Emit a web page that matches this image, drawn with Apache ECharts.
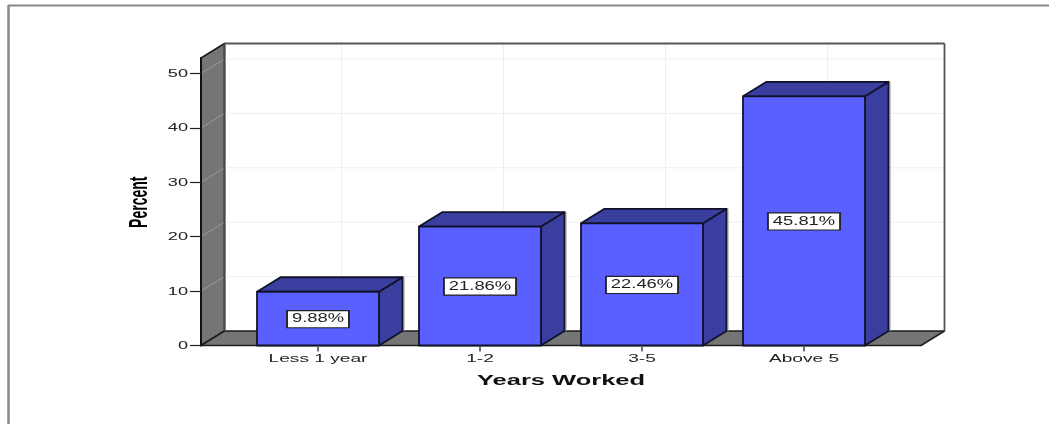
<!DOCTYPE html>
<html>
<head>
<meta charset="utf-8">
<style>html,body{margin:0;padding:0;background:#fff}#c{width:1049px;height:424px}#c canvas{filter:blur(0.4px)}</style>
<script src="https://cdn.jsdelivr.net/npm/echarts@6/dist/echarts.min.js"></script>
</head>
<body>
<div id="c"></div>
<script>
var categories = ['Less 1 year', '1-2', '3-5', 'Above 5'];
var percentValues = [9.88, 21.86, 22.46, 45.81];
var yTicks = [0, 10, 20, 30, 40, 50];
var xAxisName = 'Years Worked';
var yAxisName = 'Percent';

var DX = 23.5, DY = -14.5, SIDE_PAD = 36, BAR_RATIO = 0.753;
var FRONT = '#5a60ff', SHADE = '#3a3e9e', WALL = '#757575', EDGE = '#11122a';

function poly(points, fill, stroke, lw) {
  return {type: 'polygon', shape: {points: points},
    style: {fill: fill, stroke: stroke, lineWidth: lw, lineJoin: 'round'}};
}
function seg(x1, y1, x2, y2, color, lw) {
  return {type: 'line', shape: {x1: x1, y1: y1, x2: x2, y2: y2},
    style: {stroke: color, lineWidth: lw, fill: null}};
}
function label(text, x, y, font, sx, extra) {
  var style = {text: text, x: 0, y: 0, font: font, fill: '#222', align: 'center', verticalAlign: 'middle'};
  for (var k in (extra || {})) style[k] = extra[k];
  return {type: 'text', x: x, y: y, scaleX: sx, style: style};
}

function renderScene(params, api) {
  var cs = params.coordSys;
  var L = cs.x - SIDE_PAD, R = cs.x + cs.width + SIDE_PAD, T = cs.y, B = cs.y + cs.height;
  var kids = [];
  kids.push(poly([[L + DX, T + DY], [R + DX, T + DY], [R + DX, B + DY], [L + DX, B + DY]], '#fff', null, 0));
  kids.push(poly([[L, B], [L, T], [L + DX, T + DY], [L + DX, B + DY]], WALL, '#1c1c1c', 1.5));
  yTicks.forEach(function (t) {
    var y = api.coord([0, t])[1];
    if (t > 0) {
      kids.push(seg(L + DX, y + DY, R + DX, y + DY, '#efefef', 1));
      kids.push(seg(L, y, L + DX, y + DY, '#9a9a9a', 1));
    }
  });
  categories.forEach(function (c, i) {
    var x = api.coord([i, 0])[0];
    kids.push(seg(x + DX, T + DY, x + DX, B + DY, '#efefef', 1));
  });
  kids.push(poly([[L, B], [R, B], [R + DX, B + DY], [L + DX, B + DY]], WALL, '#1c1c1c', 1.5));
  kids.push(seg(L + DX, T + DY, R + DX, T + DY, '#555', 1.8));
  kids.push(seg(R + DX, T + DY, R + DX, B + DY, '#555', 1.8));
  kids.push(seg(L + DX, T + DY, L + DX, B + DY, '#4a4a4a', 2));
  return {type: 'group', children: kids};
}

function renderBar(params, api) {
  var i = api.value(0), v = api.value(1);
  var c = api.coord([i, v]), b = api.coord([i, 0]);
  var w = api.size([1, 0])[0] * BAR_RATIO;
  var x0 = c[0] - w / 2, x1 = c[0] + w / 2, y0 = c[1], y1 = b[1];
  return {type: 'group', children: [
    seg(x1 + DX + 1.5, y0 + DY, x1 + DX + 1.5, y1 + DY, '#a8a8a8', 1.2),
    poly([[x1, y0], [x1 + DX, y0 + DY], [x1 + DX, y1 + DY], [x1, y1]], SHADE, EDGE, 1.8),
    poly([[x0, y0], [x0 + DX, y0 + DY], [x1 + DX, y0 + DY], [x1, y0]], SHADE, EDGE, 1.8),
    poly([[x0, y0], [x1, y0], [x1, y1], [x0, y1]], FRONT, EDGE, 1.8)
  ]};
}

function renderValueLabel(params, api) {
  var i = api.value(0), v = api.value(1);
  var m = api.coord([i, v / 2]);
  return label(v.toFixed(2) + '%', m[0], m[1] + 0.5, '12px "Liberation Sans"', 1.53, {
    backgroundColor: '#fff', borderColor: '#222', borderWidth: 1.2, padding: [2, 2.6, 2, 2.6]
  });
}

function renderCategoryLabel(params, api) {
  var i = api.value(0);
  var b = api.coord([i, 0]);
  return label(categories[i], b[0], b[1] + 13.5, '11px "Liberation Sans"', 1.74);
}

function renderTickLabel(params, api) {
  var t = api.value(0);
  var p = api.coord([0, t]);
  var L = params.coordSys.x - SIDE_PAD;
  var s = label(String(t), L - 13, p[1] + 0.5, '11px "Liberation Sans"', 1.65);
  s.style.align = 'right';
  return s;
}

function renderTitles(params, api) {
  var cs = params.coordSys;
  var cx = cs.x + cs.width / 2;
  var bold = 'bold 14px "Liberation Sans"';
  var xn = label(xAxisName, cx, cs.y + cs.height + 35.5, bold, 1.82);
  xn.style.fill = '#111';
  var yn = label(yAxisName, cs.x - 97, cs.y + cs.height / 2 + 0.5, bold, 1);
  yn.style.fill = '#000';
  yn.rotation = Math.PI / 2;
  yn.scaleY = 1.85;
  return {type: 'group', children: [xn, yn]};
}

var barData = categories.map(function (c, i) { return [i, percentValues[i]]; });
var catData = categories.map(function (c, i) { return [i]; });

var chart = echarts.init(document.getElementById('c'), null, {renderer: 'canvas'});
chart.setOption({
  animation: false,
  backgroundColor: '#fff',
  tooltip: {show: false},
  graphic: [
    {type: 'line', silent: true, shape: {x1: 8, y1: 5.5, x2: 1049, y2: 5.5}, style: {stroke: '#888', lineWidth: 2}},
    {type: 'line', silent: true, shape: {x1: 8.5, y1: 5, x2: 8.5, y2: 424}, style: {stroke: '#888', lineWidth: 2.5}}
  ],
  grid: {left: 237, right: 164, top: 58, bottom: 78.5},
  xAxis: {
    type: 'category', data: categories, boundaryGap: true,
    axisLine: {show: false},
    axisTick: {show: true, alignWithLabel: true, length: 6, lineStyle: {color: '#444', width: 1.5}},
    axisLabel: {show: false},
    splitLine: {show: false}, z: 6
  },
  yAxis: {
    type: 'value', min: 0, max: 52.85, interval: 10, offset: 36,
    axisLine: {show: true, lineStyle: {color: '#111', width: 2}},
    axisTick: {show: true, customValues: yTicks, length: 11, lineStyle: {color: '#222', width: 1.2}},
    axisLabel: {show: false},
    splitLine: {show: false}, z: 6
  },
  series: [
    {type: 'custom', z: 1, clip: false, silent: true, data: [[0]], renderItem: renderScene},
    {type: 'custom', z: 2, clip: false, silent: true, data: barData, encode: {x: 0, y: 1}, renderItem: renderBar},
    {type: 'custom', z: 3, clip: false, silent: true, data: barData, encode: {x: 0, y: 1}, renderItem: renderValueLabel},
    {type: 'custom', z: 3, clip: false, silent: true, data: catData, renderItem: renderCategoryLabel},
    {type: 'custom', z: 3, clip: false, silent: true, data: yTicks.map(function (t) { return [t]; }), renderItem: renderTickLabel},
    {type: 'custom', z: 3, clip: false, silent: true, data: [[0]], renderItem: renderTitles}
  ]
});
</script>
</body>
</html>
